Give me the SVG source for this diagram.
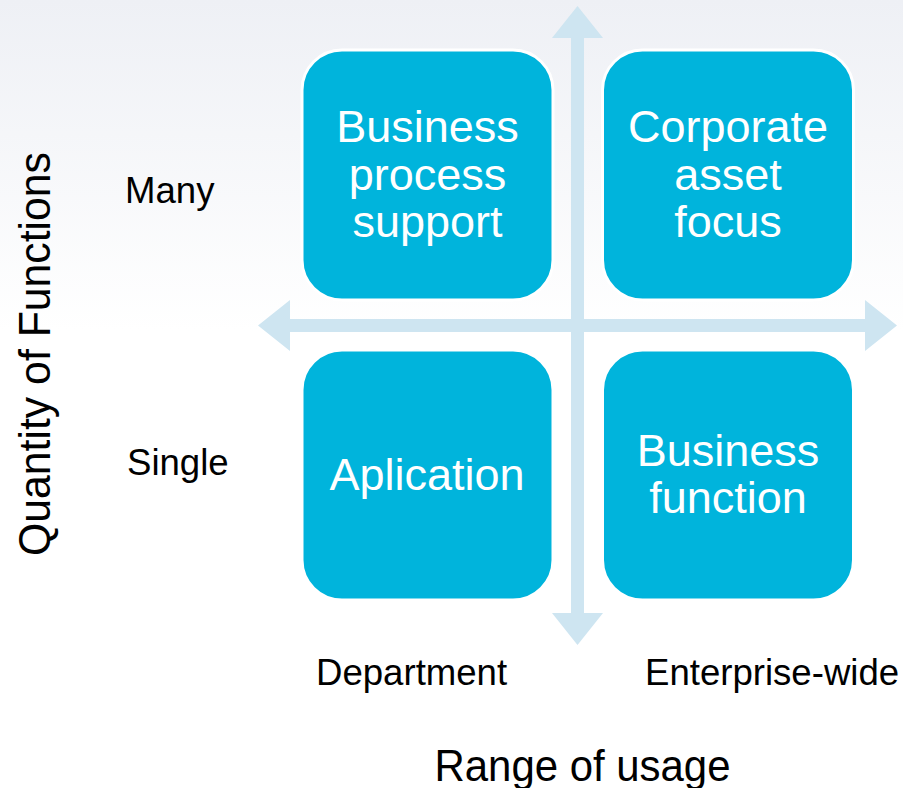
<svg xmlns="http://www.w3.org/2000/svg" width="903" height="788" viewBox="0 0 903 788">
  <defs>
    <linearGradient id="bg" x1="0" y1="0" x2="0" y2="788" gradientUnits="userSpaceOnUse">
      <stop offset="0" stop-color="#EEF0F5"/>
      <stop offset="0.42" stop-color="#FFFFFF"/>
      <stop offset="1" stop-color="#FFFFFF"/>
    </linearGradient>
    <style>
      .box { fill: #00B4DC; stroke: #FFFFFF; stroke-width: 3; }
      .btxt { font-family: "Liberation Sans", Arial, sans-serif; font-size: 45px; fill: #FFFFFF; text-anchor: middle; }
      .lbl { font-family: "Liberation Sans", Arial, sans-serif; font-size: 36.6px; fill: #000000; }
      .axis { font-family: "Liberation Sans", Arial, sans-serif; font-size: 43.5px; fill: #000000; }
      .arrow { fill: #CEE5F1; }
    </style>
  </defs>
  <rect x="0" y="0" width="903" height="788" fill="url(#bg)"/>

  <g id="connectors">
    <path class="arrow" d="M577.5,6 L603,38 L584,38 L584,613 L603,613 L577.5,645 L552,613 L571,613 L571,38 L552,38 Z"/>
    <path class="arrow" d="M258,325.5 L290,300 L290,319 L865,319 L865,300 L897,325.5 L865,351 L865,332 L290,332 L290,351 Z"/>
  </g>

  <g id="node-business-process-support">
    <rect class="box" x="302" y="50" width="251" height="250" rx="40" ry="40"/>
    <text class="btxt" x="427.5" y="142">Business</text>
    <text class="btxt" x="427.5" y="190">process</text>
    <text class="btxt" x="427.5" y="237">support</text>
  </g>

  <g id="node-corporate-asset-focus">
    <rect class="box" x="602.5" y="50" width="251" height="250" rx="40" ry="40"/>
    <text class="btxt" x="728" y="142">Corporate</text>
    <text class="btxt" x="728" y="190">asset</text>
    <text class="btxt" x="728" y="237">focus</text>
  </g>

  <g id="node-aplication">
    <rect class="box" x="302" y="350" width="251" height="250" rx="40" ry="40"/>
    <text class="btxt" x="427" y="490">Aplication</text>
  </g>

  <g id="node-business-function">
    <rect class="box" x="602.5" y="350" width="251" height="250" rx="40" ry="40"/>
    <text class="btxt" x="728" y="466">Business</text>
    <text class="btxt" x="728" y="513">function</text>
  </g>

  <g id="labels">
    <text class="lbl" x="125" y="203">Many</text>
    <text class="lbl" x="127" y="475">Single</text>
    <text class="lbl" x="316" y="685">Department</text>
    <text class="lbl" x="645" y="685">Enterprise-wide</text>
    <text class="axis" x="582.5" y="781" text-anchor="middle" textLength="296" lengthAdjust="spacingAndGlyphs">Range of usage</text>
    <text class="axis" transform="translate(50,354) rotate(-90)" x="0" y="0" text-anchor="middle" textLength="404" lengthAdjust="spacingAndGlyphs">Quantity of Functions</text>
  </g>
</svg>
